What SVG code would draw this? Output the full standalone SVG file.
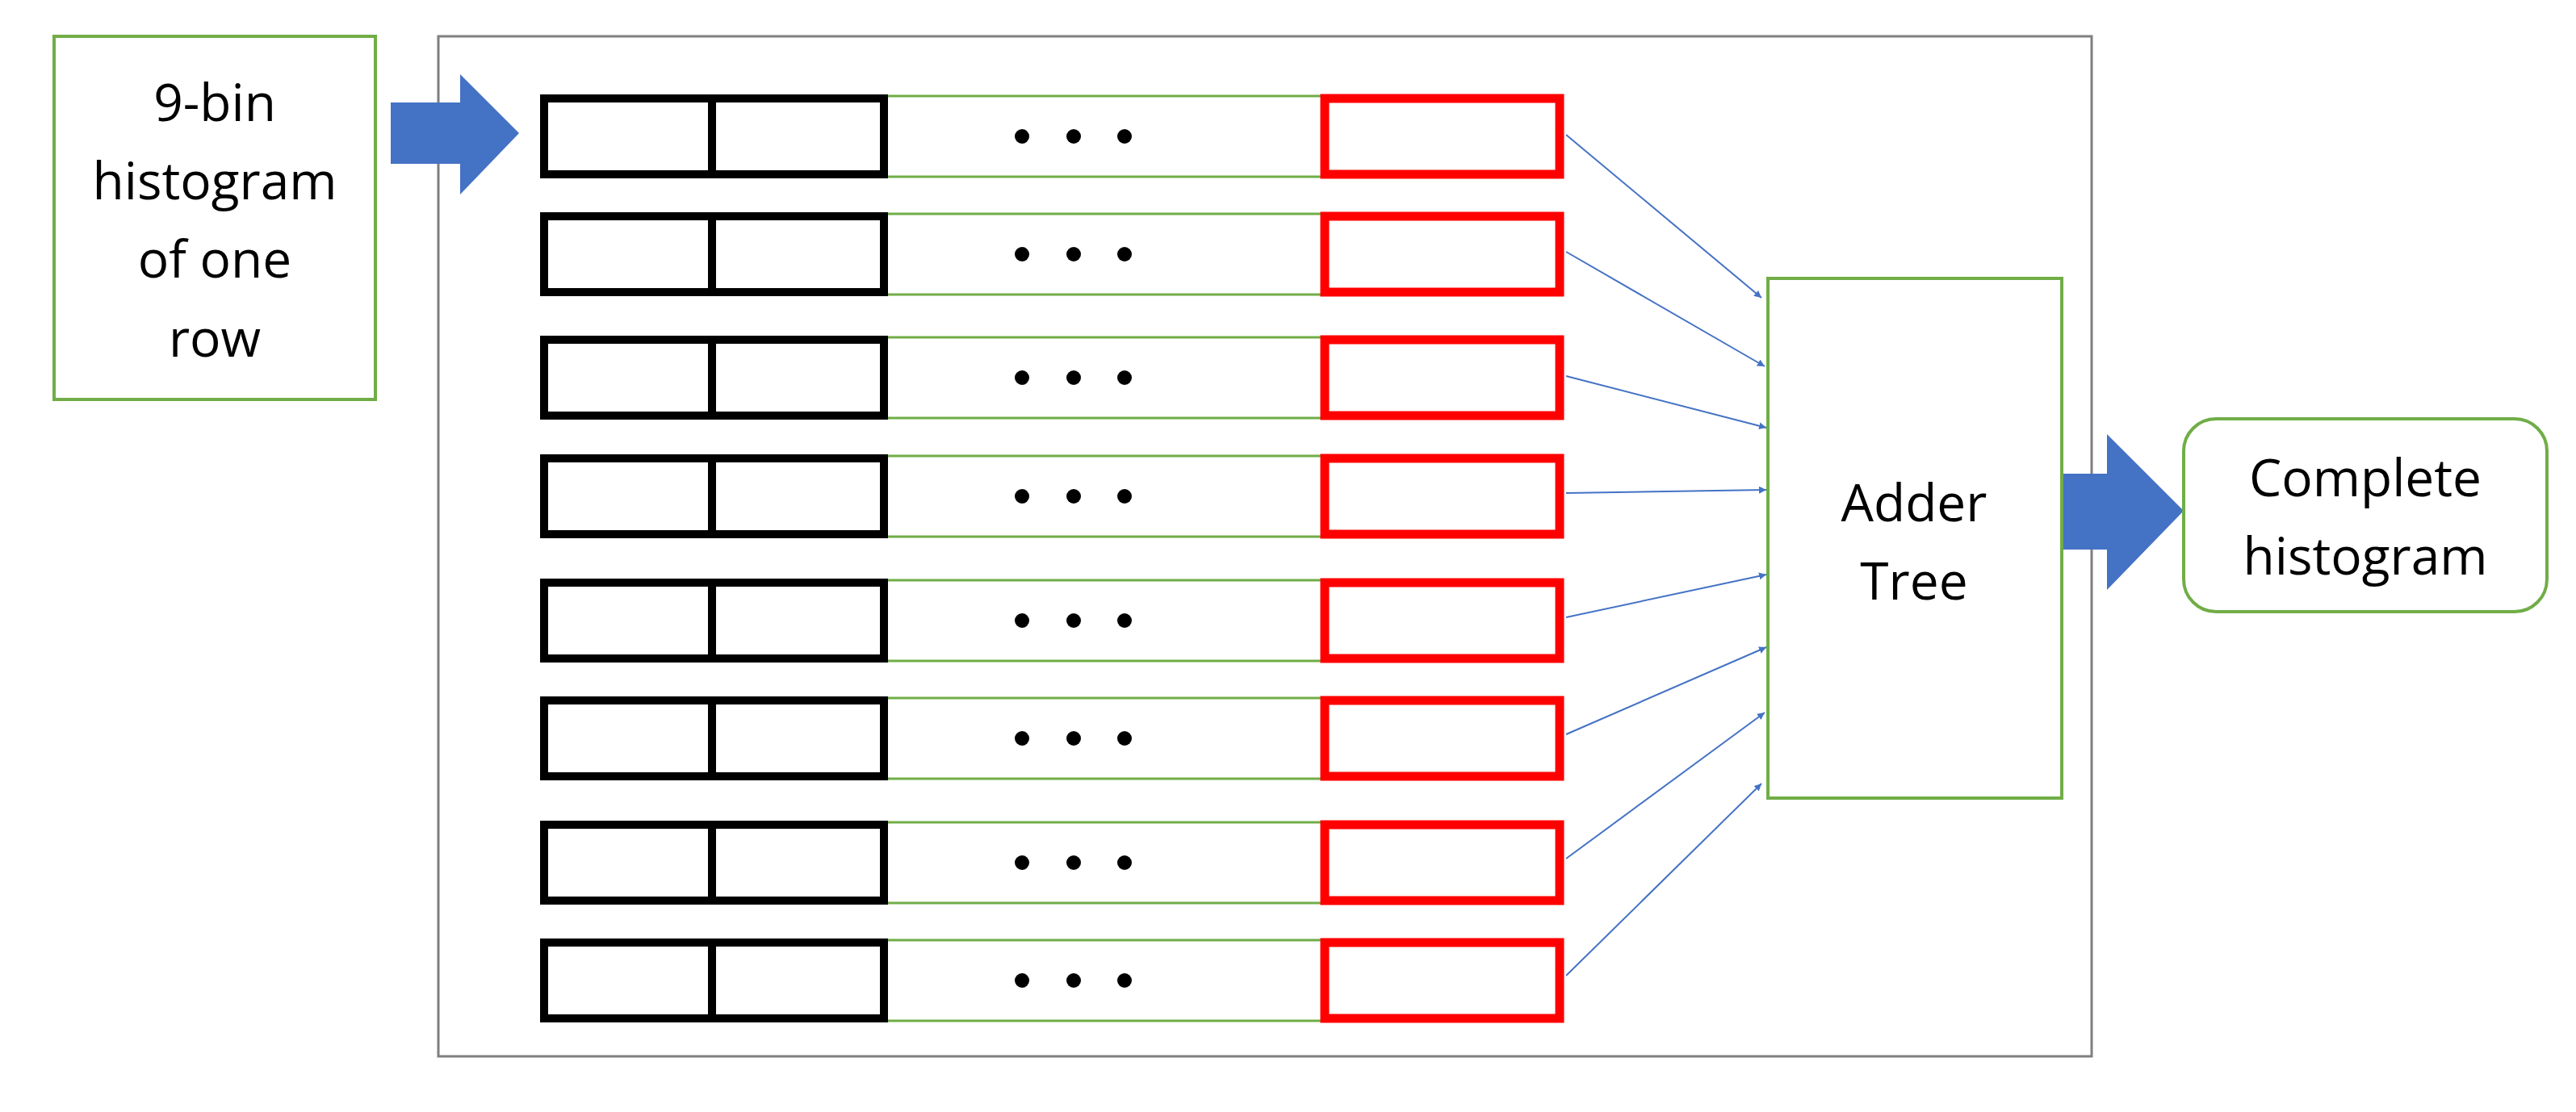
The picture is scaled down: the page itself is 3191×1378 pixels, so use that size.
<svg xmlns="http://www.w3.org/2000/svg" width="3191" height="1378" viewBox="0 0 3191 1378">
<defs>
<style>
.t{font-family:"Open Sans","Liberation Sans",sans-serif;font-size:64px;fill:#000;text-anchor:middle}
.blk{fill:#fff;stroke:#000;stroke-width:10}
.red{fill:#fff;stroke:#f00;stroke-width:11}
.gl{stroke:#70ad47;stroke-width:3}
.con{stroke:#4472c4;stroke-width:2;fill:none;marker-end:url(#ah)}
.big{fill:#4472c4}
</style>
<marker id="ah" viewBox="0 0 10 10" refX="10" refY="5" markerWidth="9" markerHeight="9" markerUnits="userSpaceOnUse" orient="auto"><path d="M0,0L10,5L0,10z" fill="#4472c4"/></marker>
<marker id="ah2" viewBox="0 0 10 10" refX="10" refY="5" markerWidth="14" markerHeight="14" orient="auto"><path d="M0,0L10,5L0,10z" fill="#4472c4"/></marker>
<g id="row"><rect class="blk" x="674" y="5" width="421" height="94"/><line x1="882" y1="5" x2="882" y2="99" stroke="#000" stroke-width="10"/><line class="gl" x1="1100" y1="2" x2="1636" y2="2"/><line class="gl" x1="1100" y1="102" x2="1636" y2="102"/><circle cx="1266" cy="52" r="9"/><circle cx="1330" cy="52" r="9"/><circle cx="1393" cy="52" r="9"/><rect class="red" x="1641" y="5" width="291" height="94"/></g>
</defs>
<g id="outer"><rect x="543" y="45" width="2048" height="1264" fill="none" stroke="#7f7f7f" stroke-width="3"/></g>
<g id="input"><rect x="67" y="45" width="398" height="450" fill="#fff" stroke="#70ad47" stroke-width="4"/><text class="t" x="266" y="150">9-bin</text><text class="t" x="266" y="247">histogram</text><text class="t" x="266" y="344">of one</text><text class="t" x="266" y="442">row</text></g>
<g id="in-arrow"><path class="big" d="M484,127H570V92L643,165L570,241V203H484z"/></g>
<g id="rows">
<use href="#row" y="117"/><use href="#row" y="263"/><use href="#row" y="416"/><use href="#row" y="563"/>
<use href="#row" y="717"/><use href="#row" y="863"/><use href="#row" y="1017"/><use href="#row" y="1163"/>
</g>
<g id="adder"><rect x="2190" y="345" width="364" height="644" fill="#fff" stroke="#70ad47" stroke-width="4"/><text class="t" x="2371" y="646">Adder</text><text class="t" x="2371" y="743">Tree</text></g>
<g id="out-arrow"><path class="big" d="M2556,587H2610V538L2705,633L2610,731V681H2556z"/></g>
<g id="output"><rect x="2705" y="519" width="450" height="239" rx="40" fill="#fff" stroke="#70ad47" stroke-width="4"/><text class="t" x="2930" y="615">Complete</text><text class="t" x="2930" y="712">histogram</text></g>
<g id="connectors">
<line class="con" x1="1940" y1="167" x2="2182" y2="369"/>
<line class="con" x1="1940" y1="312" x2="2186" y2="454"/>
<line class="con" x1="1940" y1="466" x2="2188" y2="530"/>
<line class="con" x1="1940" y1="611" x2="2188" y2="607"/>
<line class="con" x1="1940" y1="765" x2="2188" y2="712"/>
<line class="con" x1="1940" y1="910" x2="2188" y2="802"/>
<line class="con" x1="1940" y1="1064" x2="2186" y2="883"/>
<line class="con" x1="1940" y1="1209" x2="2182" y2="971"/>
</g>
</svg>
